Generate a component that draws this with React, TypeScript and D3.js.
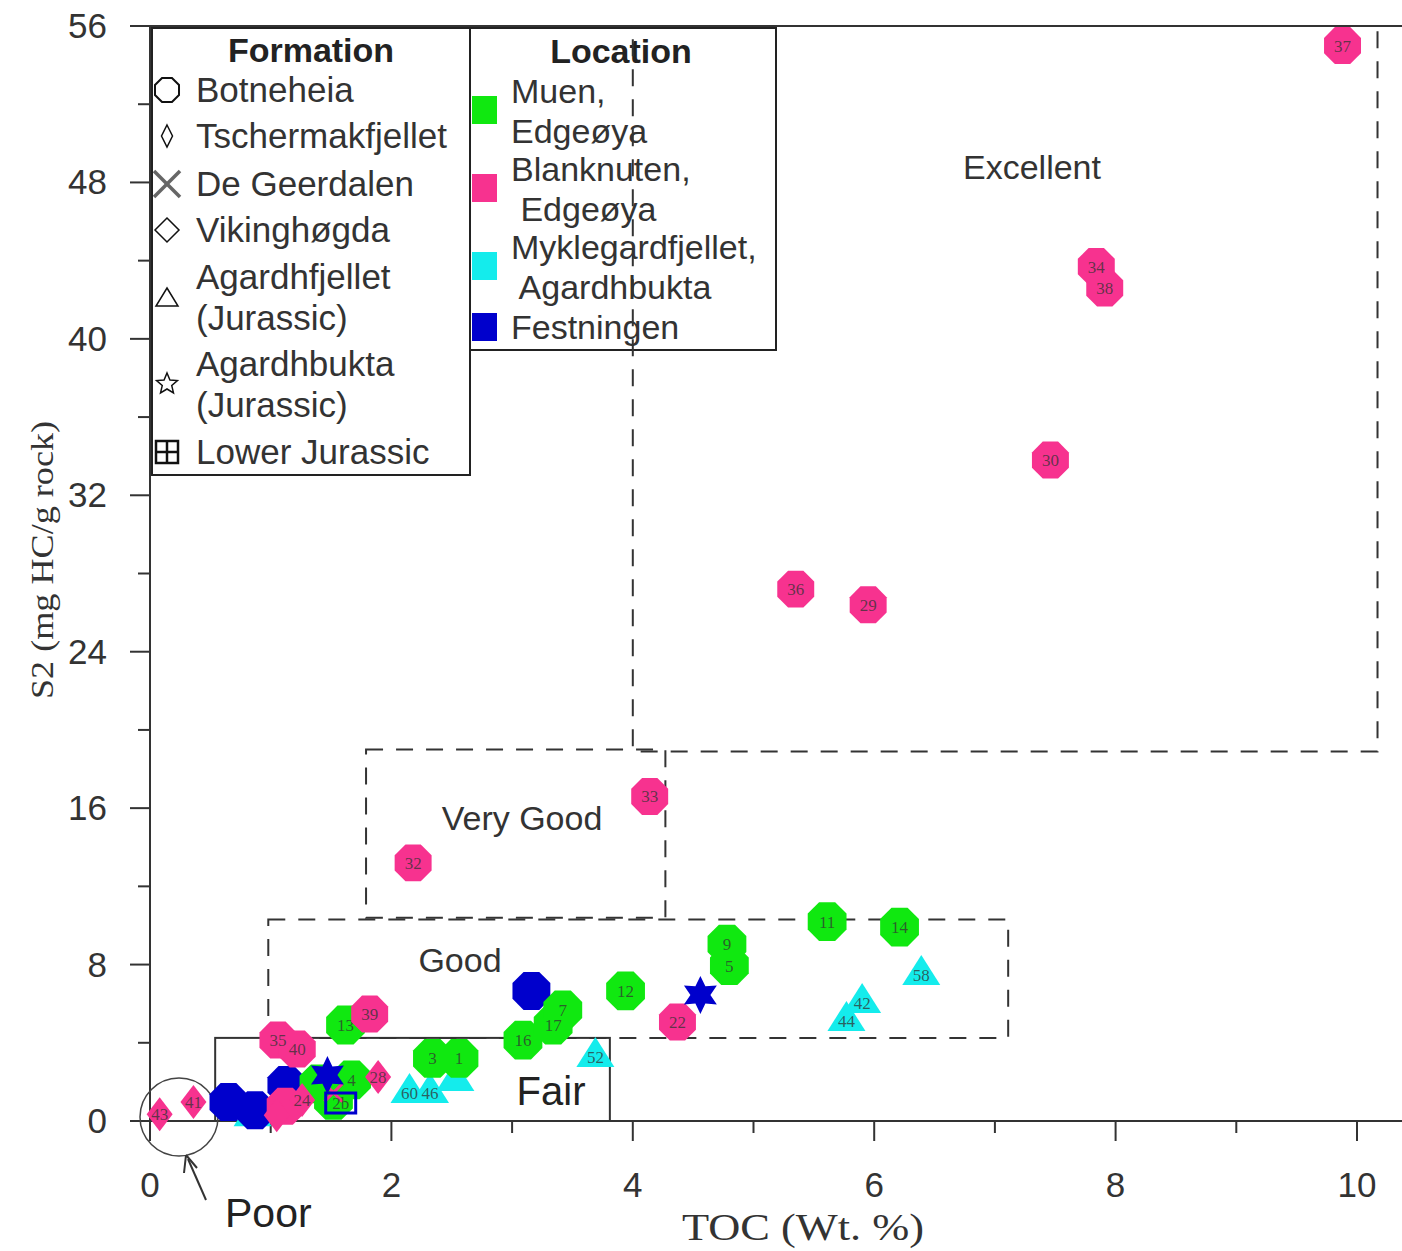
import React from "react";
import * as d3 from "d3";

// ---- data ----
const xTicks = [0, 2, 4, 6, 8, 10];
const xMinor = [1, 3, 5, 7, 9];
const yTicks = [0, 8, 16, 24, 32, 40, 48, 56];
const yMinor = [4, 12, 20, 28, 36, 44, 52];

type P = { toc: number; s2: number; label: string };

// Botneheia (octagons)
const blanknutenBotneheia: P[] = [
  { toc: 9.88, s2: 55.0, label: "37" },
  { toc: 7.84, s2: 43.7, label: "34" },
  { toc: 7.91, s2: 42.6, label: "38" },
  { toc: 7.46, s2: 33.8, label: "30" },
  { toc: 5.35, s2: 27.2, label: "36" },
  { toc: 5.95, s2: 26.4, label: "29" },
  { toc: 4.14, s2: 16.6, label: "33" },
  { toc: 2.18, s2: 13.2, label: "32" },
  { toc: 4.37, s2: 5.06, label: "22" },
  { toc: 1.82, s2: 5.47, label: "39" },
  { toc: 1.06, s2: 4.14, label: "35" },
  { toc: 1.22, s2: 3.68, label: "40" },
  { toc: 1.12, s2: 0.75, label: "" },
];
const muenBotneheia: P[] = [
  { toc: 5.61, s2: 10.2, label: "11" },
  { toc: 6.21, s2: 9.92, label: "14" },
  { toc: 4.8, s2: 7.95, label: "5" },
  { toc: 4.78, s2: 9.05, label: "9" },
  { toc: 3.94, s2: 6.65, label: "12" },
  { toc: 3.09, s2: 4.14, label: "16" },
  { toc: 3.34, s2: 4.91, label: "17" },
  { toc: 3.42, s2: 5.68, label: "7" },
  { toc: 1.62, s2: 4.91, label: "13" },
  { toc: 2.34, s2: 3.2, label: "3" },
  { toc: 2.56, s2: 3.2, label: "1" },
  { toc: 1.4, s2: 1.9, label: "" },
  { toc: 1.52, s2: 1.05, label: "" },
  { toc: 1.67, s2: 2.1, label: "4" },
];
const festningenBotneheia: P[] = [
  { toc: 3.16, s2: 6.65, label: "" },
  { toc: 0.87, s2: 0.55, label: "" },
  { toc: 0.65, s2: 0.97, label: "" },
  { toc: 1.13, s2: 1.84, label: "" },
];
// Tschermakfjellet (thin diamonds), Blanknuten
const blanknutenTscherm: P[] = [
  { toc: 0.08, s2: 0.35, label: "43" },
  { toc: 0.36, s2: 0.97, label: "41" },
  { toc: 1.89, s2: 2.25, label: "28" },
  { toc: 1.26, s2: 1.07, label: "24" },
  { toc: 1.05, s2: 0.3, label: "" },
];
// De Geerdalen (X), Blanknuten
const blanknutenDeGeer: P[] = [{ toc: 1.52, s2: 1.45, label: "" }];
// Agardhfjellet (triangles), Myklegardfjellet
const myklegardAgardhfjellet: P[] = [
  { toc: 6.39, s2: 7.72, label: "58" },
  { toc: 5.9, s2: 6.29, label: "42" },
  { toc: 5.77, s2: 5.37, label: "44" },
  { toc: 3.69, s2: 3.53, label: "52" },
  { toc: 2.53, s2: 2.3, label: "" },
  { toc: 2.15, s2: 1.69, label: "60" },
  { toc: 2.32, s2: 1.69, label: "46" },
  { toc: 0.85, s2: 0.5, label: "" },
];
// Agardhbukta (stars), Festningen
const festningenAgardhbukta: P[] = [
  { toc: 4.56, s2: 6.45, label: "" },
  { toc: 1.47, s2: 2.35, label: "" },
];
// Lower Jurassic (boxed grid), Festningen
const festningenLowerJurassic: P[] = [{ toc: 1.58, s2: 0.92, label: "2b" }];

const formationItems = [
  { sym: "octagon", lines: ["Botneheia"] },
  { sym: "thin", lines: ["Tschermakfjellet"] },
  { sym: "x", lines: ["De Geerdalen"] },
  { sym: "diamond", lines: ["Vikinghøgda"] },
  { sym: "triangle", lines: ["Agardhfjellet", "(Jurassic)"] },
  { sym: "star", lines: ["Agardhbukta", "(Jurassic)"] },
  { sym: "grid", lines: ["Lower Jurassic"] },
];
const locationItems = [
  { color: "#10e810", lines: ["Muen,", "Edgeøya"] },
  { color: "#f7328f", lines: ["Blanknuten,", " Edgeøya"] },
  { color: "#14ecec", lines: ["Myklegardfjellet,", " Agardhbukta"] },
  { color: "#0000cc", lines: ["Festningen"] },
];

// zones: [x0, x1, y0, y1]
const zoneExcellent = [4.0, 10.17, 18.9, 56];
const zoneVeryGood = [1.79, 4.27, 10.4, 19.0];
const zoneGood = [0.98, 7.11, 4.25, 10.3];
const zoneFair = [0.54, 3.81, 0, 4.25];

const PINK = "#f7328f";
const GREEN = "#10e810";
const CYAN = "#14ecec";
const BLUE = "#0000cc";

const W = 1402;
const H = 1251;
const x = d3.scaleLinear().domain([0, 10]).range([150, 1357]);
const y = d3.scaleLinear().domain([0, 56]).range([1121, 26]);

function octagonPath(cx: number, cy: number, r: number) {
  const pts: string[] = [];
  for (let i = 0; i < 8; i++) {
    const a = Math.PI / 8 + (i * Math.PI) / 4;
    pts.push(`${cx + r * Math.cos(a)},${cy + r * Math.sin(a)}`);
  }
  return "M" + pts.join("L") + "Z";
}
function starPath(cx: number, cy: number, ro: number, ri: number, n = 5) {
  const pts: string[] = [];
  for (let i = 0; i < n * 2; i++) {
    const r = i % 2 === 0 ? ro : ri;
    const a = -Math.PI / 2 + (i * Math.PI) / n;
    pts.push(`${cx + r * Math.cos(a)},${cy + r * Math.sin(a)}`);
  }
  return "M" + pts.join("L") + "Z";
}
function triPath(cx: number, cy: number, w: number, h: number) {
  return `M${cx},${cy - h / 2}L${cx + w / 2},${cy + h / 2}L${cx - w / 2},${cy + h / 2}Z`;
}
function diamondPath(cx: number, cy: number, w: number, h: number) {
  return `M${cx},${cy - h / 2}L${cx + w / 2},${cy}L${cx},${cy + h / 2}L${cx - w / 2},${cy}Z`;
}

const SANS = "'Liberation Sans', Arial, sans-serif";
const SERIF = "'Liberation Serif', 'Times New Roman', serif";

const labelStyle: React.CSSProperties = {
  fontFamily: SERIF,
  fontSize: 17,
  fill: "#333",
  fillOpacity: 0.75,
};

function Labels({ pts, dy = 6 }: { pts: P[]; dy?: number }) {
  return (
    <g>
      {pts
        .filter((p) => p.label)
        .map((p, i) => (
          <text key={i} x={x(p.toc)} y={y(p.s2) + dy} textAnchor="middle" style={labelStyle}>
            {p.label}
          </text>
        ))}
    </g>
  );
}

function Txt({
  x: tx,
  y: ty,
  size,
  anchor = "start",
  sx = 1,
  family = SANS,
  weight = "normal",
  fill = "#333",
  children,
}: {
  x: number;
  y: number;
  size: number;
  anchor?: "start" | "middle" | "end";
  sx?: number;
  family?: string;
  weight?: string;
  fill?: string;
  children: React.ReactNode;
}) {
  return (
    <text
      transform={`translate(${tx},${ty}) scale(${sx},1)`}
      textAnchor={anchor}
      fontFamily={family}
      fontSize={size}
      fontWeight={weight}
      fill={fill}
      style={{ whiteSpace: "pre" }}
    >
      {children}
    </text>
  );
}

function Zone({ z, dashed }: { z: number[]; dashed: boolean }) {
  return (
    <rect
      x={x(z[0])}
      y={y(z[3])}
      width={x(z[1]) - x(z[0])}
      height={y(z[2]) - y(z[3])}
      fill="none"
      stroke="#333"
      strokeWidth={2}
      strokeDasharray={dashed ? "17 13" : undefined}
    />
  );
}

export default function App() {
  return (
    <div style={{ position: "absolute", left: 0, top: 0 }}>
      <svg width={W} height={H} style={{ display: "block", background: "#fff" }}>
        {/* zones */}
        <Zone z={zoneFair} dashed={false} />
        <Zone z={zoneGood} dashed />
        <Zone z={zoneVeryGood} dashed />

        {/* axes */}
        <line x1={150} x2={W} y1={y(0)} y2={y(0)} stroke="#333" strokeWidth={2} />
        <line x1={150} x2={W} y1={y(56)} y2={y(56)} stroke="#333" strokeWidth={2} />
        <line x1={150} x2={150} y1={y(0)} y2={y(56)} stroke="#333" strokeWidth={2} />
        {xTicks.map((t) => (
          <g key={"xt" + t}>
            <line x1={x(t)} x2={x(t)} y1={y(0)} y2={y(0) + 20} stroke="#333" strokeWidth={2} />
            <Txt x={x(t)} y={1197} size={35} anchor="middle">
              {t}
            </Txt>
          </g>
        ))}
        {xMinor.map((t) => (
          <line key={"xm" + t} x1={x(t)} x2={x(t)} y1={y(0)} y2={y(0) + 12} stroke="#333" strokeWidth={2} />
        ))}
        {yTicks.map((t) => (
          <g key={"yt" + t}>
            <line x1={130} x2={150} y1={y(t)} y2={y(t)} stroke="#333" strokeWidth={2} />
            <Txt x={107} y={y(t) + 12} size={35} anchor="end">
              {t}
            </Txt>
          </g>
        ))}
        {yMinor.map((t) => (
          <line key={"ym" + t} x1={138} x2={150} y1={y(t)} y2={y(t)} stroke="#333" strokeWidth={2} />
        ))}
        <Txt x={803} y={1240} size={37} anchor="middle" sx={1.2} family={SERIF}>
          TOC (Wt. %)
        </Txt>
        <g transform="translate(53, 560) rotate(-90)">
          <Txt x={0} y={0} size={32} anchor="middle" sx={1.13} family={SERIF}>
            S2 (mg HC/g rock)
          </Txt>
        </g>

        {/* legends */}
        <rect x={152} y={28} width={318} height={447} fill="#fff" stroke="#222" strokeWidth={2} />
        <rect x={470} y={28} width={306} height={322} fill="#fff" stroke="#222" strokeWidth={2} />
        <Txt x={311} y={62} size={34} anchor="middle" weight="bold" fill="#222">
          Formation
        </Txt>
        <Txt x={621} y={63} size={34} anchor="middle" weight="bold" fill="#222">
          Location
        </Txt>
        {formationItems.map((it, i) => {
          const ys = [90, 136, 184, 230, 297, 384, 452];
          const cy = ys[i];
          const cx = 167;
          let sym: React.ReactNode = null;
          if (it.sym === "octagon") sym = <path d={octagonPath(cx, cy, 13)} fill="none" stroke="#111" strokeWidth={2} />;
          else if (it.sym === "thin") sym = <path d={diamondPath(cx, cy, 11, 22)} fill="none" stroke="#111" strokeWidth={1.5} />;
          else if (it.sym === "x")
            sym = (
              <g stroke="#666" strokeWidth={3.5}>
                <line x1={cx - 13} x2={cx + 13} y1={cy - 13} y2={cy + 13} />
                <line x1={cx - 13} x2={cx + 13} y1={cy + 13} y2={cy - 13} />
              </g>
            );
          else if (it.sym === "diamond") sym = <path d={diamondPath(cx, cy, 24, 24)} fill="none" stroke="#111" strokeWidth={1.5} />;
          else if (it.sym === "triangle") sym = <path d={triPath(cx, cy, 22, 18)} fill="none" stroke="#111" strokeWidth={1.5} />;
          else if (it.sym === "star") sym = <path d={starPath(cx, cy, 11, 5)} fill="none" stroke="#111" strokeWidth={1.5} />;
          else if (it.sym === "grid")
            sym = (
              <g stroke="#111" strokeWidth={2.5} fill="none">
                <rect x={cx - 11} y={cy - 11} width={22} height={22} />
                <line x1={cx} x2={cx} y1={cy - 11} y2={cy + 11} />
                <line x1={cx - 11} x2={cx + 11} y1={cy} y2={cy} />
              </g>
            );
          const ty = it.lines.length === 1 ? cy + 12 : cy - 8;
          return (
            <g key={"f" + i}>
              {sym}
              {it.lines.map((l, j) => (
                <Txt key={j} x={196} y={ty + j * 41} size={35}>
                  {l}
                </Txt>
              ))}
            </g>
          );
        })}
        {locationItems.map((it, i) => {
          const ys = [110, 188, 266, 327];
          const cy = ys[i];
          const ty = it.lines.length === 1 ? cy + 12 : cy - 7;
          return (
            <g key={"l" + i}>
              <rect x={472} y={cy - 14} width={25} height={28} fill={it.color} />
              {it.lines.map((l, j) => (
                <Txt key={j} x={511} y={ty + j * 40} size={34}>
                  {l}
                </Txt>
              ))}
            </g>
          );
        })}
        <Zone z={zoneExcellent} dashed />

        {/* zone labels */}
        <Txt x={1032} y={179} size={34} anchor="middle">Excellent</Txt>
        <Txt x={522} y={830} size={34} anchor="middle">Very Good</Txt>
        <Txt x={460} y={972} size={34} anchor="middle">Good</Txt>
        <Txt x={551} y={1105} size={40} anchor="middle" fill="#222">Fair</Txt>
        <Txt x={225} y={1227} size={41} fill="#222">Poor</Txt>
        <circle cx={179} cy={1117} r={39} fill="none" stroke="#444" strokeWidth={1.5} />
        <line x1={206} x2={188} y1={1200} y2={1159} stroke="#333" strokeWidth={2} />
        <path d="M186,1155 L184,1173 M186,1155 L197,1168" stroke="#333" strokeWidth={2} fill="none" />

        {/* points: triangles */}
        {myklegardAgardhfjellet.map((p, i) => (
          <path key={"tri" + i} d={triPath(x(p.toc), y(p.s2), 38, 30)} fill={CYAN} />
        ))}
        <Labels pts={myklegardAgardhfjellet} dy={11} />
        {/* octagons */}
        {festningenBotneheia.map((p, i) => (
          <path key={"fb" + i} d={octagonPath(x(p.toc), y(p.s2), 20.5)} fill={BLUE} />
        ))}
        {muenBotneheia.map((p, i) => (
          <path key={"mb" + i} d={octagonPath(x(p.toc), y(p.s2), 21)} fill={GREEN} />
        ))}
        <Labels pts={muenBotneheia} />
        {blanknutenBotneheia.map((p, i) => (
          <path key={"bb" + i} d={octagonPath(x(p.toc), y(p.s2), 20)} fill={PINK} />
        ))}
        <Labels pts={blanknutenBotneheia} />
        {blanknutenTscherm.map((p, i) => (
          <path key={"bt" + i} d={diamondPath(x(p.toc), y(p.s2), 26, 34)} fill={PINK} />
        ))}
        <Labels pts={blanknutenTscherm} />
        {blanknutenDeGeer.map((p, i) => (
          <g key={"dg" + i} stroke={PINK} strokeWidth={3}>
            <line x1={x(p.toc) - 9} x2={x(p.toc) + 9} y1={y(p.s2) - 9} y2={y(p.s2) + 9} />
            <line x1={x(p.toc) - 9} x2={x(p.toc) + 9} y1={y(p.s2) + 9} y2={y(p.s2) - 9} />
          </g>
        ))}
        {festningenAgardhbukta.map((p, i) => (
          <path key={"st" + i} d={starPath(x(p.toc), y(p.s2), 19, 10, 6)} fill={BLUE} />
        ))}
        {festningenLowerJurassic.map((p, i) => (
          <rect key={"lj" + i} x={x(p.toc) - 15} y={y(p.s2) - 10} width={30} height={20} fill="none" stroke={BLUE} strokeWidth={3} />
        ))}
        <Labels pts={festningenLowerJurassic} dy={6} />
      </svg>
    </div>
  );
}
